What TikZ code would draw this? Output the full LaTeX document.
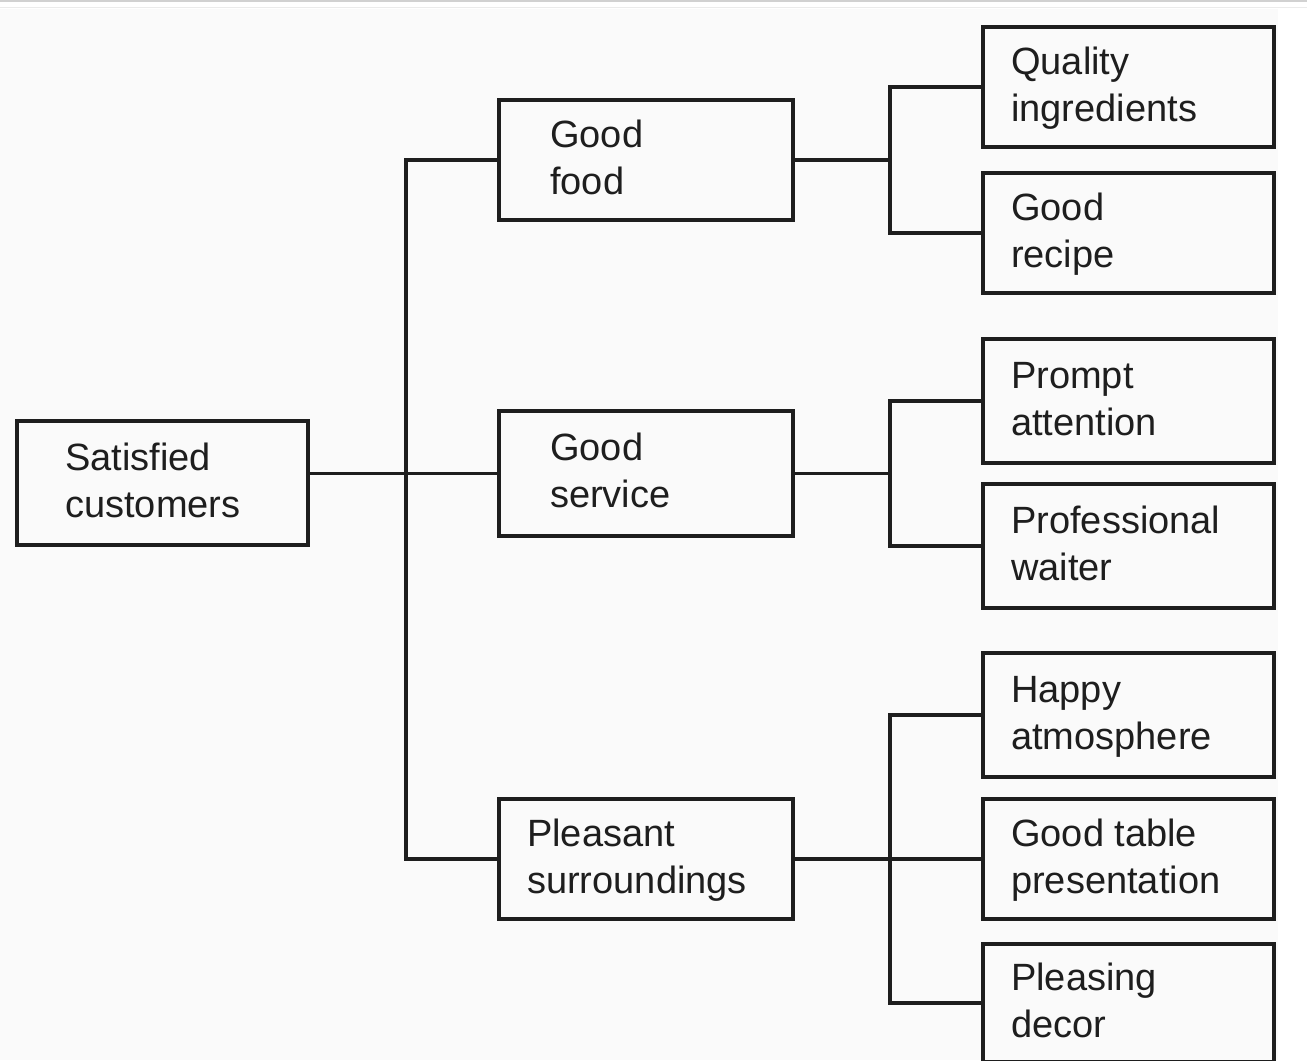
\documentclass[tikz,border=0pt]{standalone}
\usepackage{fontspec}
\setmainfont{Liberation Sans}
\usetikzlibrary{calc}
\definecolor{ink}{HTML}{1E1E1E}
\definecolor{paper}{HTML}{FAFAFA}
\begin{document}
\begin{tikzpicture}[x=1bp,y=-1bp,
  blk/.style={draw=ink, line width=3.5bp, rectangle, inner sep=0pt, outer sep=0pt},
  lbl/.style={anchor=base west, align=left, inner sep=0pt, text=ink,
              font=\fontsize{38bp}{47bp}\selectfont},
  link/.style={draw=ink, line width=3.5bp, line join=miter}]
\useasboundingbox (0,0) rectangle (1307,1060);
% page background with the thin rules along the top edge
\fill[white] (0,0) rectangle (1307,1060);
\fill[paper] (0,9) rectangle (1278,1060);
\fill[black!18] (0,0) rectangle (1307,2);
\fill[black!8] (0,6.5) rectangle (1307,7.5);

% root
\node[blk, minimum width=291bp, minimum height=124bp] (root) at (162.5,483) {};
% second level
\node[blk, minimum width=294bp, minimum height=120bp] (gf) at (646,160) {};
\node[blk, minimum width=294bp, minimum height=125bp] (gs) at (646,473.5) {};
\node[blk, minimum width=294bp, minimum height=120bp] (ps) at (646,859) {};
% third level
\node[blk, minimum width=291bp, minimum height=120bp] (qi) at (1128.5,87) {};
\node[blk, minimum width=291bp, minimum height=120bp] (gr) at (1128.5,233) {};
\node[blk, minimum width=291bp, minimum height=124bp] (pa) at (1128.5,401) {};
\node[blk, minimum width=291bp, minimum height=124bp] (pw) at (1128.5,546) {};
\node[blk, minimum width=291bp, minimum height=124bp] (ha) at (1128.5,715) {};
\node[blk, minimum width=291bp, minimum height=120bp] (gt) at (1128.5,859) {};
\node[blk, minimum width=291bp, minimum height=118bp] (pd) at (1128.5,1003) {};

% texts (the base anchor sits on the second line)
\node[lbl] (root-t) at ($(root.west)+(48,34)$) {Satisfied\\customers};
\node[lbl] (gf-t) at ($(gf.west)+(51,34)$) {Good\\food};
\node[lbl] (gs-t) at ($(gs.west)+(51,34)$) {Good\\service};
\node[lbl] (ps-t) at ($(ps.west)+(28,34)$) {Pleasant\\surroundings};
\node[lbl] (qi-t) at ($(qi.west)+(28,34)$) {Quality\\ingredients};
\node[lbl] (gr-t) at ($(gr.west)+(28,34)$) {Good\\recipe};
\node[lbl] (pa-t) at ($(pa.west)+(28,34)$) {Prompt\\attention};
\node[lbl] (pw-t) at ($(pw.west)+(28,34)$) {Professional\\waiter};
\node[lbl] (ha-t) at ($(ha.west)+(28,34)$) {Happy\\atmosphere};
\node[lbl] (gt-t) at ($(gt.west)+(28,34)$) {Good table\\presentation};
\node[lbl] (pd-t) at ($(pd.west)+(28,34)$) {Pleasing\\decor};

% junction columns
\coordinate (j1) at (406,0);
\coordinate (j2) at (890,0);

% root to second level
\draw[link] (root.east |- gs.west) -- (gs.west);
\draw[link] (gf.west) -| (j1 |- gs.west) |- (ps.west);

% second level to third level
\draw[link] (gf.east) -- (j2 |- gf.east);
\draw[link] (qi.west) -| (j2 |- gf.east) |- (gr.west);
\draw[link] (gs.east) -- (j2 |- gs.east);
\draw[link] (pa.west) -| (j2 |- gs.east) |- (pw.west);
\draw[link] (ps.east) -- (gt.west);
\draw[link] (ha.west) -| (j2 |- ps.east) |- (pd.west);
\end{tikzpicture}
\end{document}
